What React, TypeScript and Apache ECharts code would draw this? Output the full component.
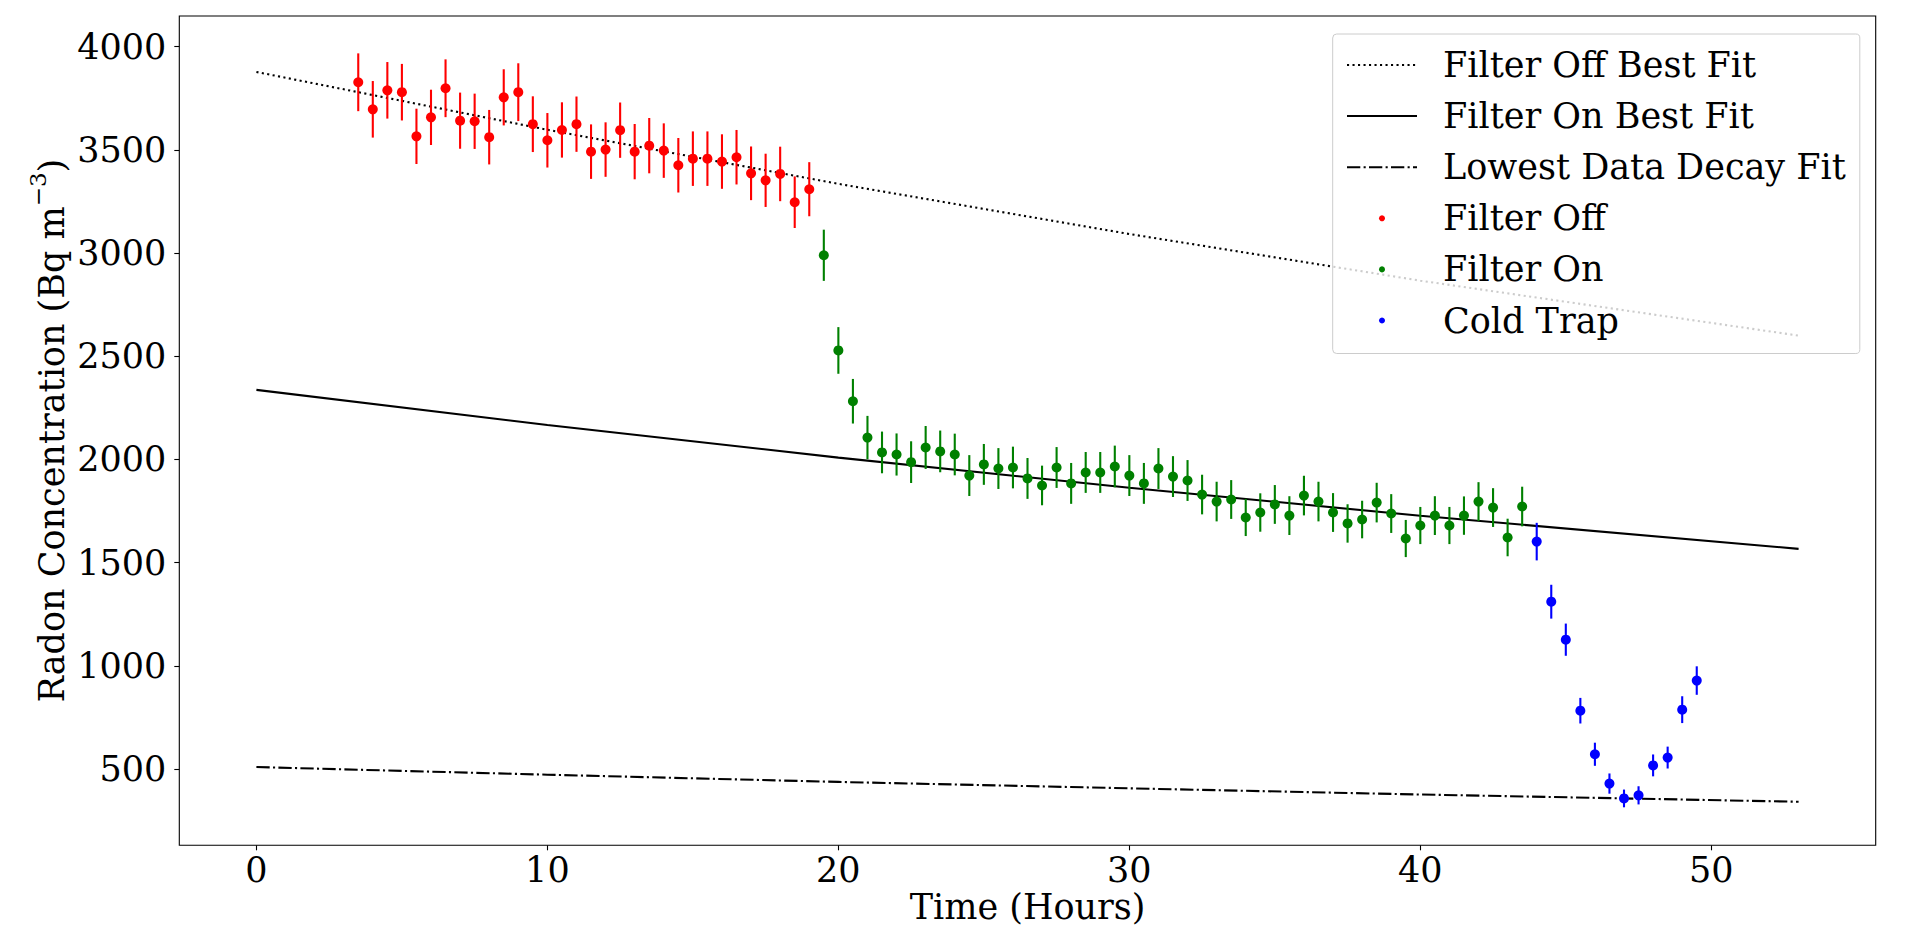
import React, { useEffect, useRef } from 'react';
import * as echarts from 'echarts';

const FONT = "'DejaVu Serif', serif";
const FS = 35;

// Fit curves (read at a few hours)
const fitHours = [0, 10, 20, 30, 40, 53];
const filterOffFit = [3877, 3597, 3335, 3092, 2866, 2600];
const filterOnFit = [2337, 2167, 2009, 1863, 1727, 1567];
const lowestFit = [510, 473, 438, 407, 377, 342];

// Filter Off data
const filterOffHours = [3.5, 4, 4.5, 5, 5.5, 6, 6.5, 7, 7.5, 8, 8.5, 9, 9.5, 10, 10.5, 11, 11.5, 12, 12.5, 13, 13.5, 14, 14.5, 15, 15.5, 16, 16.5, 17, 17.5, 18, 18.5, 19];
const filterOffValues = [3827, 3696, 3788, 3779, 3565, 3657, 3798, 3641, 3638, 3561, 3754, 3779, 3624, 3546, 3596, 3624, 3491, 3501, 3595, 3491, 3520, 3496, 3425, 3457, 3457, 3443, 3464, 3386, 3352, 3383, 3246, 3309];
const filterOffErr = [140, 137, 137, 137, 134, 134, 140, 136, 134, 132, 136, 140, 135, 132, 134, 134, 132, 132, 134, 134, 134, 132, 132, 132, 132, 132, 132, 130, 129, 132, 125, 131];

// Filter On data
const filterOnHours = [19.5, 20, 20.5, 21, 21.5, 22, 22.5, 23, 23.5, 24, 24.5, 25, 25.5, 26, 26.5, 27, 27.5, 28, 28.5, 29, 29.5, 30, 30.5, 31, 31.5, 32, 32.5, 33, 33.5, 34, 34.5, 35, 35.5, 36, 36.5, 37, 37.5, 38, 38.5, 39, 39.5, 40, 40.5, 41, 41.5, 42, 42.5, 43, 43.5];
const filterOnValues = [2989, 2528, 2282, 2106, 2034, 2024, 1987, 2058, 2039, 2024, 1922, 1976, 1956, 1961, 1908, 1874, 1961, 1884, 1937, 1937, 1966, 1922, 1884, 1956, 1917, 1898, 1830, 1796, 1806, 1719, 1743, 1782, 1728, 1825, 1796, 1743, 1690, 1709, 1791, 1738, 1617, 1680, 1728, 1680, 1728, 1796, 1767, 1622, 1772];
const filterOnErr = [124, 113, 108, 105, 101, 102, 101, 104, 101, 101, 99, 99, 99, 101, 99, 96, 99, 99, 99, 99, 101, 99, 99, 99, 99, 99, 96, 96, 94, 90, 93, 94, 94, 96, 96, 94, 93, 91, 96, 94, 90, 90, 94, 90, 93, 94, 94, 91, 96];

// Cold Trap data
const coldTrapHours = [44, 44.5, 45, 45.5, 46, 46.5, 47, 47.5, 48, 48.5, 49, 49.5];
const coldTrapValues = [1602, 1311, 1127, 783, 572, 430, 358, 373, 518, 556, 788, 929];
const coldTrapErr = [91, 82, 78, 62, 56, 49, 43, 44, 53, 53, 65, 69];

// Axis ticks
const xTicks = [0, 10, 20, 30, 40, 50];
const yTicks = [500, 1000, 1500, 2000, 2500, 3000, 3500, 4000];

const pairs = (xs: number[], ys: number[]) => xs.map((x, i) => [x, ys[i]]);
const bars = (xs: number[], ys: number[], es: number[]) => xs.map((x, i) => [x, ys[i] - es[i], ys[i] + es[i]]);

const errorSeries = (name: string, color: string, data: number[][]) => ({
  type: 'custom',
  name,
  z: 2,
  silent: true,
  data,
  encode: { x: 0, y: [1, 2] },
  renderItem: (params: any, api: any) => {
    const x = api.value(0);
    const p1 = api.coord([x, api.value(1)]);
    const p2 = api.coord([x, api.value(2)]);
    return {
      type: 'line',
      shape: { x1: p1[0], y1: p1[1], x2: p2[0], y2: p2[1] },
      style: { stroke: color, lineWidth: 2.1 },
    };
  },
});

const lineSeries = (name: string, data: number[][], type: any) => ({
  type: 'line',
  name,
  z: 1,
  data,
  symbol: 'none',
  showSymbol: false,
  silent: true,
  itemStyle: { color: '#000' },
  lineStyle: { color: '#000', width: 2.1, type },
});

const scatterSeries = (name: string, color: string, data: number[][]) => ({
  type: 'scatter',
  name,
  z: 3,
  data,
  symbol: 'circle',
  symbolSize: 10,
  silent: true,
  itemStyle: { color, opacity: 1 },
});

const plain = (v: number) => String(v);

const option: any = {
  animation: false,
  backgroundColor: '#fff',
  grid: {
    left: 179.3,
    right: 49.3,
    top: 16,
    bottom: 103.7,
    show: true,
    borderColor: '#000',
    borderWidth: 1.1,
    backgroundColor: 'transparent',
  },
  xAxis: {
    type: 'value',
    min: -2.65,
    max: 55.65,
    name: 'Time (Hours)',
    nameLocation: 'middle',
    nameGap: 62,
    nameMoveOverlap: false,
    nameTextStyle: { fontFamily: FONT, fontSize: FS, color: '#000', verticalAlign: 'middle' },
    axisLine: { show: false, onZero: false },
    splitLine: { show: false },
    axisTick: { show: true, length: 5, customValues: xTicks, lineStyle: { color: '#000', width: 1.1 } },
    axisLabel: { customValues: xTicks, margin: 7, fontFamily: FONT, fontSize: FS, color: '#000', formatter: plain },
  },
  yAxis: {
    type: 'value',
    min: 131,
    max: 4148,
    name: '{a|Radon Concentration (Bq m}{s|−3}{a|)}',
    nameLocation: 'middle',
    nameGap: 127.5,
    nameRotate: 90,
    nameMoveOverlap: false,
    nameTextStyle: {
      fontFamily: FONT,
      fontSize: FS,
      color: '#000',
      verticalAlign: 'middle',
      rich: {
        a: { fontFamily: FONT, fontSize: FS, color: '#000' },
        s: { fontFamily: FONT, fontSize: 23, color: '#000', padding: [0, 0, 28, 0] },
      },
    },
    axisLine: { show: false, onZero: false },
    splitLine: { show: false },
    axisTick: { show: true, length: 5, customValues: yTicks, lineStyle: { color: '#000', width: 1.1 } },
    axisLabel: { customValues: yTicks, margin: 13, fontFamily: FONT, fontSize: FS, color: '#000', formatter: plain },
  },
  legend: {
    orient: 'vertical',
    left: 1332.7,
    top: 34,
    padding: [11, 14, 13, 13.3],
    itemWidth: 70,
    itemHeight: 6,
    itemGap: 11.1,
    selectedMode: false,
    backgroundColor: 'rgba(255,255,255,0.8)',
    borderColor: '#cccccc',
    borderWidth: 1,
    borderRadius: 4,
    textStyle: { fontFamily: FONT, fontSize: FS, color: '#000', lineHeight: 40, padding: [0, 0, 0, 21] },
    data: [
      { name: 'Filter Off Best Fit', itemStyle: { opacity: 0 } },
      { name: 'Filter On Best Fit', itemStyle: { opacity: 0 } },
      { name: 'Lowest Data Decay Fit', itemStyle: { opacity: 0 } },
      { name: 'Filter Off', icon: 'circle' },
      { name: 'Filter On', icon: 'circle' },
      { name: 'Cold Trap', icon: 'circle' },
    ],
  },
  series: [
    lineSeries('Filter Off Best Fit', pairs(fitHours, filterOffFit), [2.1, 3.4]),
    lineSeries('Filter On Best Fit', pairs(fitHours, filterOnFit), 'solid'),
    lineSeries('Lowest Data Decay Fit', pairs(fitHours, lowestFit), [13.3, 3.3, 2.1, 3.3]),
    errorSeries('Filter Off Error', '#ff0000', bars(filterOffHours, filterOffValues, filterOffErr)),
    errorSeries('Filter On Error', '#008000', bars(filterOnHours, filterOnValues, filterOnErr)),
    errorSeries('Cold Trap Error', '#0000ff', bars(coldTrapHours, coldTrapValues, coldTrapErr)),
    scatterSeries('Filter Off', '#ff0000', pairs(filterOffHours, filterOffValues)),
    scatterSeries('Filter On', '#008000', pairs(filterOnHours, filterOnValues)),
    scatterSeries('Cold Trap', '#0000ff', pairs(coldTrapHours, coldTrapValues)),
  ],
};

export default function App() {
  const ref = useRef<HTMLDivElement>(null);
  useEffect(() => {
    const chart = echarts.init(ref.current as HTMLDivElement, null, { renderer: 'svg' });
    chart.setOption(option);
    return () => chart.dispose();
  }, []);
  return (
    <div
      ref={ref}
      style={{ position: 'fixed', left: 0, top: 0, width: 1925, height: 949, background: '#fff' }}
    />
  );
}
